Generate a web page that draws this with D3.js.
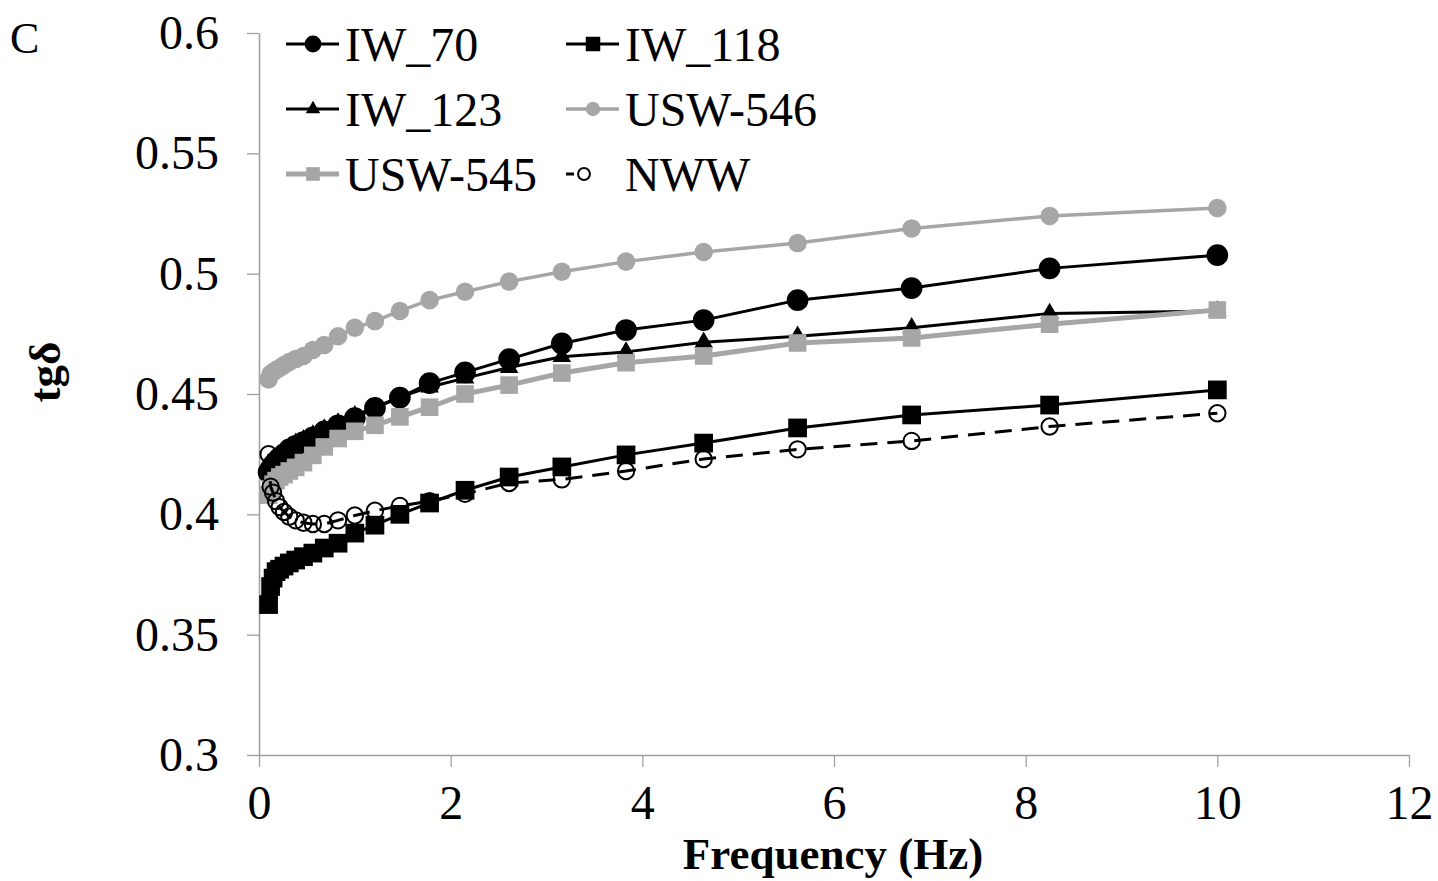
<!DOCTYPE html>
<html>
<head>
<meta charset="utf-8">
<script src="https://cdn.jsdelivr.net/npm/d3@7"></script>
<style>
  html, body { margin: 0; padding: 0; background: #fff; }
  svg { display: block; }
</style>
</head>
<body>
<div id="chart"></div>
<script>
// Frequency sweep (Hz)
const freq = [0.1, 0.121, 0.147, 0.178, 0.215, 0.261, 0.316, 0.383, 0.464, 0.562, 0.681, 0.825,
  1, 1.21, 1.47, 1.78, 2.15, 2.61, 3.16, 3.83, 4.64, 5.62, 6.81, 8.25, 10];

// tg delta values
const iw70 = [0.4175, 0.419, 0.4205, 0.422, 0.4235, 0.425, 0.427, 0.4285, 0.430, 0.432, 0.4345, 0.437,
  0.440, 0.4442, 0.4485, 0.4545, 0.459, 0.4645, 0.471, 0.4766, 0.4807, 0.489, 0.494, 0.5022, 0.5077];
const iw118 = [0.3625, 0.370, 0.3735, 0.3762, 0.3772, 0.3785, 0.3798, 0.381, 0.3824, 0.3839, 0.386, 0.388,
  0.3922, 0.3955, 0.400, 0.4047, 0.410, 0.4155, 0.4197, 0.4247, 0.4296, 0.4359, 0.4413, 0.4454, 0.4517];
const iw123 = [0.418, 0.419, 0.421, 0.423, 0.4245, 0.426, 0.428, 0.4295, 0.431, 0.433, 0.4355, 0.438,
  0.441, 0.4445, 0.4487, 0.4529, 0.4566, 0.461, 0.4655, 0.4675, 0.4715, 0.474, 0.4775, 0.4835, 0.4845];
const usw546 = [0.456, 0.4583, 0.4591, 0.460, 0.4608, 0.462, 0.4633, 0.4645, 0.4658, 0.4683, 0.4704, 0.474,
  0.4775, 0.4803, 0.4845, 0.489, 0.4925, 0.4967, 0.5008, 0.505, 0.509, 0.5127, 0.5188, 0.524, 0.5273];
const usw545 = [0.408, 0.4105, 0.4125, 0.414, 0.4155, 0.4165, 0.418, 0.4195, 0.4215, 0.4245, 0.428, 0.4315,
  0.4345, 0.437, 0.4405, 0.4445, 0.450, 0.4537, 0.4587, 0.463, 0.4658, 0.4712, 0.4733, 0.479, 0.4849];
const nww = [0.425, 0.4115, 0.409, 0.4055, 0.403, 0.401, 0.399, 0.3975, 0.3965, 0.396, 0.396, 0.3975,
  0.3995, 0.4015, 0.4035, 0.4055, 0.4085, 0.413, 0.4145, 0.418, 0.423, 0.427, 0.4305, 0.4365, 0.442];

const xTicks = [0, 2, 4, 6, 8, 10, 12];
const yTicks = [0.3, 0.35, 0.4, 0.45, 0.5, 0.55, 0.6];

// Colors
const black = '#000';
const gray = '#a6a6a6';
const axisColor = '#a0a0a0';
const font = '"Liberation Serif", "Times New Roman", serif';

const series = [
  { name: 'IW_70', values: iw70, color: black, width: 3, symbol: d3.symbolCircle, size: 370, fill: black },
  { name: 'IW_118', values: iw118, color: black, width: 3, symbol: d3.symbolSquare, size: 350, fill: black },
  { name: 'IW_123', values: iw123, color: black, width: 3, symbol: d3.symbolTriangle, size: 150, fill: black },
  { name: 'USW-546', values: usw546, color: gray, width: 3.5, symbol: d3.symbolCircle, size: 270, fill: gray },
  { name: 'USW-545', values: usw545, color: gray, width: 5, symbol: d3.symbolSquare, size: 310, fill: gray },
  { name: 'NWW', values: nww, color: black, width: 3, symbol: d3.symbolCircle, size: 210, fill: 'none', dash: '17,10', open: true }
];

const width = 1438;
const height = 881;

const x = d3.scaleLinear().domain([0, 12]).range([259, 1409]);
const y = d3.scaleLinear().domain([0.3, 0.6]).range([755, 33]);

const svg = d3.select('#chart').append('svg')
  .attr('width', width)
  .attr('height', height)
  .attr('font-family', font);

// y axis
const yAxis = svg.append('g')
  .attr('transform', `translate(${x(0)},0)`)
  .call(d3.axisLeft(y).tickValues(yTicks).tickSize(12).tickPadding(28).tickSizeOuter(0)
    .tickFormat(d => String(+d.toFixed(2))));

// x axis
const xAxis = svg.append('g')
  .attr('transform', `translate(0,${y(0.3)})`)
  .call(d3.axisBottom(x).tickValues(xTicks).tickSize(12).tickPadding(18).tickSizeOuter(0));

[yAxis, xAxis].forEach(a => {
  a.select('.domain').attr('stroke', axisColor).attr('stroke-width', 1.6);
  a.selectAll('.tick line').attr('stroke', axisColor).attr('stroke-width', 1.3);
  a.selectAll('.tick text')
    .attr('fill', black)
    .attr('font-family', font)
    .attr('font-size', 48);
});

// series
const line = d3.line()
  .x((d, i) => x(freq[i]))
  .y(d => y(d));

const plot = svg.append('g');

series.forEach(s => {
  const g = plot.append('g');
  g.append('path')
    .datum(s.values)
    .attr('fill', 'none')
    .attr('stroke', s.color)
    .attr('stroke-width', s.width)
    .attr('stroke-dasharray', s.dash || null)
    .attr('stroke-linejoin', 'round')
    .attr('d', line);

  g.selectAll('path.mark')
    .data(s.values)
    .join('path')
    .attr('class', 'mark')
    .attr('transform', (d, i) => `translate(${x(freq[i])},${y(d)})`)
    .attr('d', d3.symbol(s.symbol, s.size))
    .attr('fill', s.fill)
    .attr('stroke', s.open ? black : null)
    .attr('stroke-width', s.open ? 2 : null);
});

// legend
const legendCols = [286, 566];
const legendRows = [44, 109, 174];
const legend = svg.append('g');

series.forEach((s, i) => {
  const lx = legendCols[i % 2];
  const ly = legendRows[Math.floor(i / 2)];
  const g = legend.append('g').attr('transform', `translate(${lx},${ly})`);
  if (s.open) {
    g.append('line')
      .attr('x1', 0).attr('x2', 32)
      .attr('stroke', s.color).attr('stroke-width', s.width)
      .attr('stroke-dasharray', '8,8');
    g.append('path')
      .attr('transform', 'translate(18,0)')
      .attr('d', d3.symbol(s.symbol, 110))
      .attr('fill', '#fff')
      .attr('stroke', black)
      .attr('stroke-width', 2);
  } else {
    g.append('line')
      .attr('x1', 0).attr('x2', 53)
      .attr('stroke', s.color).attr('stroke-width', s.width);
    g.append('path')
      .attr('transform', 'translate(27,0)')
      .attr('d', d3.symbol(s.symbol, s.size * 0.6))
      .attr('fill', s.fill);
  }
  g.append('text')
    .attr('x', 59)
    .attr('dy', '0.35em')
    .attr('font-size', 48)
    .attr('fill', black)
    .text(s.name);
});

// titles
svg.append('text')
  .attr('x', 10)
  .attr('y', 53)
  .attr('font-size', 44)
  .text('C');

svg.append('text')
  .attr('transform', `translate(60,${372}) rotate(-90)`)
  .attr('text-anchor', 'middle')
  .attr('font-size', 45)
  .attr('font-weight', 'bold')
  .text('tgδ');

svg.append('text')
  .attr('x', 833)
  .attr('y', 869)
  .attr('text-anchor', 'middle')
  .attr('font-size', 45)
  .attr('font-weight', 'bold')
  .text('Frequency (Hz)');
</script>
</body>
</html>
